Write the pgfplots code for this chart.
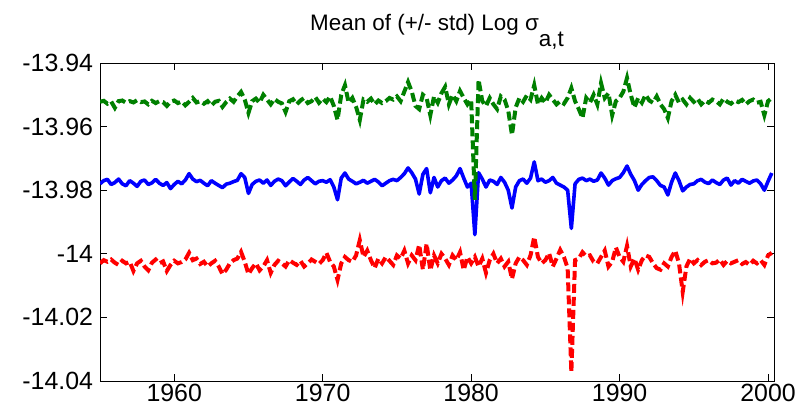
\documentclass[border=0pt]{standalone}
\usepackage{fontspec}
\setmainfont{Liberation Sans}
\usepackage{pgfplots}
\usepackage{pgfplotstable}
\pgfplotsset{compat=1.18}
\definecolor{mblue}{RGB}{0,0,255}
\definecolor{mgreen}{RGB}{0,128,0}
\definecolor{mred}{RGB}{255,0,0}
\pgfplotstableread{
x b g r
1955.00 -13.9780 -13.9522 -14.0030
1955.25 -13.9770 -13.9519 -14.0020
1955.50 -13.9766 -13.9528 -14.0025
1955.75 -13.9782 -13.9521 -14.0018
1956.00 -13.9776 -13.9541 -14.0028
1956.25 -13.9765 -13.9520 -14.0035
1956.50 -13.9780 -13.9518 -14.0022
1956.75 -13.9786 -13.9525 -14.0030
1957.00 -13.9770 -13.9520 -14.0025
1957.25 -13.9778 -13.9524 -14.0054
1957.50 -13.9788 -13.9517 -14.0030
1957.75 -13.9772 -13.9523 -14.0022
1958.00 -13.9768 -13.9521 -14.0040
1958.25 -13.9782 -13.9530 -14.0052
1958.50 -13.9777 -13.9519 -14.0028
1958.75 -13.9766 -13.9526 -14.0018
1959.00 -13.9778 -13.9520 -14.0030
1959.25 -13.9785 -13.9523 -14.0024
1959.50 -13.9776 -13.9535 -14.0054
1959.75 -13.9795 -13.9522 -14.0035
1960.00 -13.9782 -13.9518 -14.0022
1960.25 -13.9772 -13.9526 -14.0030
1960.50 -13.9780 -13.9521 -14.0026
1960.75 -13.9768 -13.9533 -14.0018
1961.00 -13.9748 -13.9522 -13.9997
1961.25 -13.9765 -13.9510 -14.0020
1961.50 -13.9773 -13.9524 -14.0015
1961.75 -13.9769 -13.9520 -14.0032
1962.00 -13.9778 -13.9528 -14.0025
1962.25 -13.9786 -13.9520 -14.0040
1962.50 -13.9770 -13.9534 -14.0030
1962.75 -13.9778 -13.9522 -14.0022
1963.00 -13.9785 -13.9519 -14.0040
1963.25 -13.9792 -13.9538 -14.0064
1963.50 -13.9781 -13.9523 -14.0050
1963.75 -13.9778 -13.9512 -14.0030
1964.00 -13.9773 -13.9522 -14.0020
1964.25 -13.9769 -13.9505 -14.0015
1964.50 -13.9748 -13.9491 -13.9994
1964.75 -13.9760 -13.9515 -14.0025
1965.00 -13.9810 -13.9557 -14.0064
1965.25 -13.9782 -13.9520 -14.0045
1965.50 -13.9772 -13.9512 -14.0030
1965.75 -13.9768 -13.9525 -14.0052
1966.00 -13.9778 -13.9500 -14.0040
1966.25 -13.9768 -13.9515 -14.0020
1966.50 -13.9785 -13.9530 -14.0060
1966.75 -13.9772 -13.9513 -14.0035
1967.00 -13.9765 -13.9522 -14.0022
1967.25 -13.9770 -13.9527 -14.0030
1967.50 -13.9786 -13.9554 -14.0040
1967.75 -13.9774 -13.9520 -14.0020
1968.00 -13.9763 -13.9514 -14.0028
1968.25 -13.9772 -13.9530 -14.0035
1968.50 -13.9782 -13.9518 -14.0022
1968.75 -13.9768 -13.9510 -14.0040
1969.00 -13.9760 -13.9526 -14.0030
1969.25 -13.9770 -13.9520 -14.0018
1969.50 -13.9780 -13.9507 -14.0025
1969.75 -13.9772 -13.9525 -14.0032
1970.00 -13.9770 -13.9512 -14.0020
1970.25 -13.9775 -13.9523 -13.9997
1970.50 -13.9767 -13.9505 -14.0025
1970.75 -13.9790 -13.9535 -14.0040
1971.00 -13.9830 -13.9579 -14.0082
1971.25 -13.9762 -13.9500 -14.0030
1971.50 -13.9746 -13.9470 -14.0010
1971.75 -13.9765 -13.9525 -14.0020
1972.00 -13.9772 -13.9510 -14.0025
1972.25 -13.9780 -13.9538 -14.0005
1972.50 -13.9775 -13.9579 -13.9957
1972.75 -13.9769 -13.9515 -14.0010
1973.00 -13.9778 -13.9522 -13.9990
1973.25 -13.9772 -13.9512 -14.0020
1973.50 -13.9766 -13.9530 -14.0045
1973.75 -13.9774 -13.9518 -14.0015
1974.00 -13.9786 -13.9526 -14.0030
1974.25 -13.9778 -13.9520 -14.0010
1974.50 -13.9770 -13.9510 -14.0022
1974.75 -13.9766 -13.9515 -14.0035
1975.00 -13.9770 -13.9505 -14.0005
1975.25 -13.9760 -13.9520 -14.0015
1975.50 -13.9748 -13.9490 -13.9990
1975.75 -13.9730 -13.9460 -14.0030
1976.00 -13.9745 -13.9490 -14.0005
1976.25 -13.9765 -13.9535 -14.0020
1976.50 -13.9812 -13.9545 -13.9972
1976.75 -13.9750 -13.9500 -14.0050
1977.00 -13.9732 -13.9510 -13.9968
1977.25 -13.9808 -13.9564 -14.0052
1977.50 -13.9760 -13.9505 -14.0005
1977.75 -13.9790 -13.9525 -14.0030
1978.00 -13.9770 -13.9495 -14.0000
1978.25 -13.9762 -13.9475 -14.0015
1978.50 -13.9778 -13.9530 -14.0035
1978.75 -13.9768 -13.9500 -14.0005
1979.00 -13.9755 -13.9520 -14.0020
1979.25 -13.9732 -13.9488 -13.9995
1979.50 -13.9762 -13.9510 -14.0051
1979.75 -13.9790 -13.9530 -14.0010
1980.00 -13.9778 -13.9515 -14.0030
1980.25 -13.9940 -13.9830 -14.0010
1980.50 -13.9745 -13.9453 -14.0040
1980.75 -13.9765 -13.9520 -14.0015
1981.00 -13.9790 -13.9535 -14.0060
1981.25 -13.9768 -13.9510 -14.0020
1981.50 -13.9772 -13.9530 -14.0000
1981.75 -13.9782 -13.9545 -14.0030
1982.00 -13.9760 -13.9505 -14.0015
1982.25 -13.9775 -13.9515 -14.0040
1982.50 -13.9800 -13.9550 -14.0025
1982.75 -13.9856 -13.9626 -14.0079
1983.00 -13.9790 -13.9540 -14.0030
1983.25 -13.9770 -13.9510 -14.0010
1983.50 -13.9765 -13.9522 -14.0020
1983.75 -13.9778 -13.9502 -14.0035
1984.00 -13.9762 -13.9515 -14.0005
1984.25 -13.9711 -13.9470 -13.9947
1984.50 -13.9770 -13.9530 -14.0010
1984.75 -13.9765 -13.9510 -14.0030
1985.00 -13.9775 -13.9525 -14.0020
1985.25 -13.9770 -13.9500 -13.9998
1985.50 -13.9760 -13.9515 -14.0040
1985.75 -13.9778 -13.9530 -14.0015
1986.00 -13.9784 -13.9520 -13.9988
1986.25 -13.9790 -13.9528 -14.0010
1986.50 -13.9800 -13.9510 -14.0045
1986.75 -13.9920 -13.9479 -14.0372
1987.00 -13.9780 -13.9520 -14.0020
1987.25 -13.9766 -13.9545 -14.0015
1987.50 -13.9762 -13.9573 -13.9995
1987.75 -13.9770 -13.9510 -14.0008
1988.00 -13.9765 -13.9525 -14.0005
1988.25 -13.9772 -13.9500 -14.0025
1988.50 -13.9768 -13.9530 -14.0030
1988.75 -13.9746 -13.9463 -14.0010
1989.00 -13.9762 -13.9510 -13.9990
1989.25 -13.9784 -13.9495 -14.0040
1989.50 -13.9770 -13.9564 -14.0025
1989.75 -13.9764 -13.9520 -13.9980
1990.00 -13.9760 -13.9510 -14.0010
1990.25 -13.9745 -13.9490 -14.0025
1990.50 -13.9724 -13.9447 -13.9975
1990.75 -13.9750 -13.9500 -14.0040
1991.00 -13.9770 -13.9540 -14.0015
1991.25 -13.9800 -13.9510 -14.0050
1991.50 -13.9782 -13.9525 -14.0020
1991.75 -13.9770 -13.9500 -14.0005
1992.00 -13.9760 -13.9518 -14.0010
1992.25 -13.9758 -13.9525 -14.0030
1992.50 -13.9770 -13.9505 -14.0045
1992.75 -13.9785 -13.9530 -14.0050
1993.00 -13.9790 -13.9545 -14.0030
1993.25 -13.9815 -13.9573 -14.0040
1993.50 -13.9775 -13.9520 -14.0010
1993.75 -13.9746 -13.9500 -13.9990
1994.00 -13.9770 -13.9525 -14.0030
1994.25 -13.9802 -13.9515 -14.0120
1994.50 -13.9790 -13.9530 -14.0040
1994.75 -13.9782 -13.9510 -14.0015
1995.00 -13.9780 -13.9522 -14.0030
1995.25 -13.9770 -13.9512 -14.0020
1995.50 -13.9766 -13.9530 -14.0035
1995.75 -13.9775 -13.9518 -14.0025
1996.00 -13.9779 -13.9525 -14.0020
1996.25 -13.9768 -13.9515 -14.0030
1996.50 -13.9776 -13.9520 -14.0028
1996.75 -13.9782 -13.9530 -14.0018
1997.00 -13.9768 -13.9512 -14.0035
1997.25 -13.9762 -13.9522 -14.0022
1997.50 -13.9784 -13.9528 -14.0030
1997.75 -13.9770 -13.9518 -14.0025
1998.00 -13.9778 -13.9523 -14.0020
1998.25 -13.9766 -13.9516 -14.0032
1998.50 -13.9772 -13.9530 -14.0026
1998.75 -13.9778 -13.9520 -14.0035
1999.00 -13.9771 -13.9515 -14.0022
1999.25 -13.9768 -13.9525 -14.0030
1999.50 -13.9780 -13.9522 -14.0020
1999.75 -13.9800 -13.9564 -14.0035
2000.00 -13.9772 -13.9520 -14.0005
2000.25 -13.9746 -13.9510 -13.9997
}\datatable
\begin{document}
\begin{tikzpicture}
\useasboundingbox (0,0) rectangle (798bp,419bp);
\begin{axis}[
  at={(100bp,38bp)}, anchor=south west,
  width=674bp, height=318bp, scale only axis,
  xmin=1955, xmax=2000.4, ymin=-14.04, ymax=-13.94,
  xtick={1960,1970,1980,1990,2000},
  xticklabels={1960,1970,1980,1990,2000},
  ytick={-14.04,-14.02,-14,-13.98,-13.96,-13.94},
  yticklabels={-14.04,-14.02,-14,-13.98,-13.96,-13.94},
  tick align=inside,
  major tick length=7bp,
  axis line style={line width=0.9bp, black},
  every tick/.style={line width=0.9bp, black},
  tick label style={font=\fontsize{25}{30}\selectfont},
  yticklabel style={xshift=-3.5bp},
  every axis title/.style={at={(0.5,1)}, anchor=base, yshift=32bp, font=\fontsize{22.5}{26}\selectfont},
  title={Mean of (+/- std) Log σ\raisebox{-16bp}{a,t}},
]
\addplot[mblue, line width=3.6bp, line join=round, no marks] table[x=x, y=b] {\datatable};
\addplot[mgreen, line width=4bp, dash pattern=on 9bp off 4bp, no marks] table[x=x, y=g] {\datatable};
\addplot[mred, line width=4bp, dash pattern=on 9bp off 4bp, no marks] table[x=x, y=r] {\datatable};
\end{axis}
\end{tikzpicture}
\end{document}
